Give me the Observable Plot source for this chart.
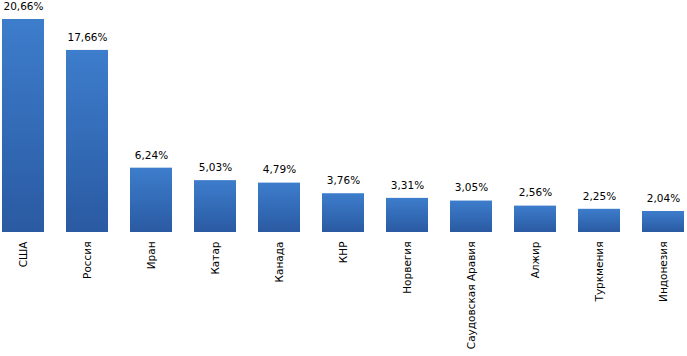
<!DOCTYPE html>
<html><head><meta charset="utf-8">
<script src="https://cdn.jsdelivr.net/npm/d3@7"></script>
<script src="https://cdn.jsdelivr.net/npm/@observablehq/plot@0.6"></script>
<style>body{margin:0;background:#fff;} svg{display:block;}</style>
</head><body><div id="chart"></div>
<script>
const countries = ["США","Россия","Иран","Катар","Канада","КНР","Норвегия","Саудовская Аравия","Алжир","Туркмения","Индонезия"];
const shares = [20.66,17.66,6.24,5.03,4.79,3.76,3.31,3.05,2.56,2.25,2.04];
const data = countries.map((c,i)=>({country:c, value:shares[i]}));
const fmt = v => v.toFixed(2).replace(".", ",") + "%";

const plot = Plot.plot({
  width: 687, height: 356,
  marginTop: 0, marginBottom: 124, marginLeft: 0, marginRight: 0,
  style: {fontFamily: "DejaVu Sans", fontSize: "10px", color: "#000", background: "#fff"},
  x: {domain: countries, range: [-10, 697], paddingInner: 0.34, paddingOuter: 0.17, axis: null, label: null},
  y: {domain: [0, 22], range: [232, 232 - 22*10.31], axis: null},
  marks: [
    Plot.barY(data, {x: "country", y: "value", fill: "url(#barGrad)"}),
    Plot.ruleY([0], {stroke: "#8c8c8c", strokeWidth: 1, x1: 0, x2: 687}),
    Plot.text(data, {x: "country", y: "value", text: d => fmt(d.value), dy: -13, fill: "#000", fontSize: 10.5}),
    Plot.axisX({anchor: "bottom", label: null, tickSize: 0, tickRotate: -90, tickPadding: 9, textAnchor: "end", fontSize: 10.5, fill: "#000"})
  ]
});
const svg = d3.select(plot);
const defs = svg.insert("defs", ":first-child");
const g = defs.append("linearGradient").attr("id","barGrad").attr("x1",0).attr("y1",0).attr("x2",0).attr("y2",1);
g.append("stop").attr("offset","0%").attr("stop-color","#3d7dcc");
g.append("stop").attr("offset","100%").attr("stop-color","#2a5aa2");
document.getElementById("chart").appendChild(plot);
</script></body></html>
